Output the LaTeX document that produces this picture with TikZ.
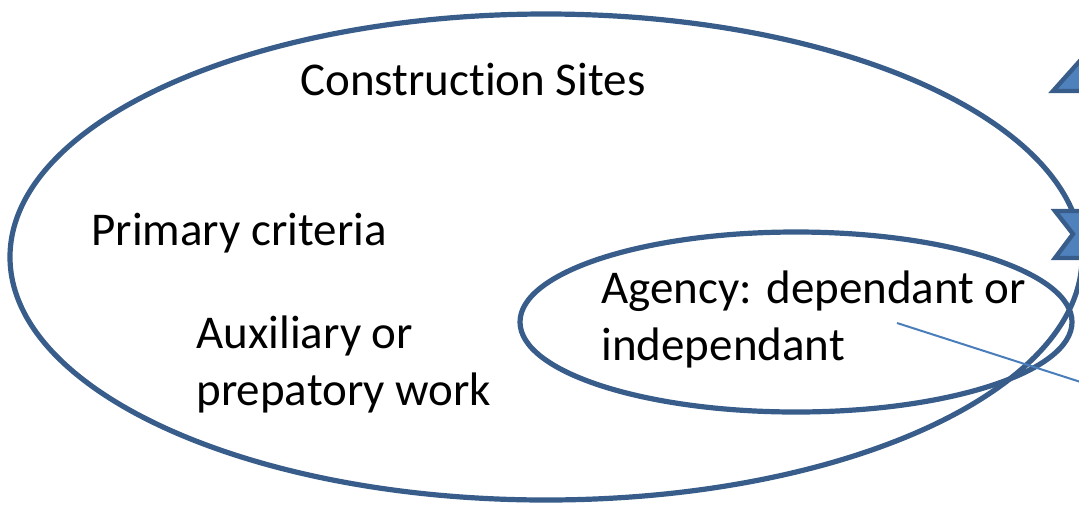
\documentclass[tikz,border=0pt]{standalone}
\usepackage{fontspec}
\setmainfont{Carlito}[Ligatures={NoCommon}]
\usetikzlibrary{shapes.geometric}
\definecolor{edgeblue}{HTML}{385D8A}
\definecolor{fillblue}{HTML}{4F81BD}
\definecolor{lineblue}{HTML}{4A7EBB}
\begin{document}
\begin{tikzpicture}[x=0.5pt,y=-0.5pt,
  ring/.style={ellipse, draw=edgeblue, line width=2.6pt, inner sep=0pt},
  lbl/.style={font=\fontsize{23.5}{28.5}\selectfont, inner sep=0pt, align=left, anchor=base west},
  markshape/.style={draw=edgeblue, fill=fillblue, line width=2.2pt, line join=miter},
  pointer/.style={draw=lineblue, line width=1pt}]
\useasboundingbox (0,0) rectangle (1079,504);
\clip (0,0) rectangle (1079,504);
\node[ring, minimum width=536pt, minimum height=243pt] (outer) at (546,257) {};
\node[ring, minimum width=276pt, minimum height=90pt] (inner) at (796,322) {};
\node[lbl] (cs) at (300,95) {Construction Sites};
\node[lbl] (pc) at (91,245) {Primary criteria};
\node[lbl] (aux) at (196,405) {Auxiliary or\\prepatory work};
\node[lbl] (ag) at (601,360) {Agency: dependant or\\independant};
\coordinate (l1) at (897,323);
\coordinate (l2) at (1090,385);
\draw[pointer] (l1) -- (l2);
\draw[markshape] (1053,91) -- (1120,91) -- (1120,16) -- cycle;
\draw[markshape] (1055,211) -- (1120,211) -- (1120,258) -- (1055,258) -- (1073,234) -- cycle;
\end{tikzpicture}
\end{document}
